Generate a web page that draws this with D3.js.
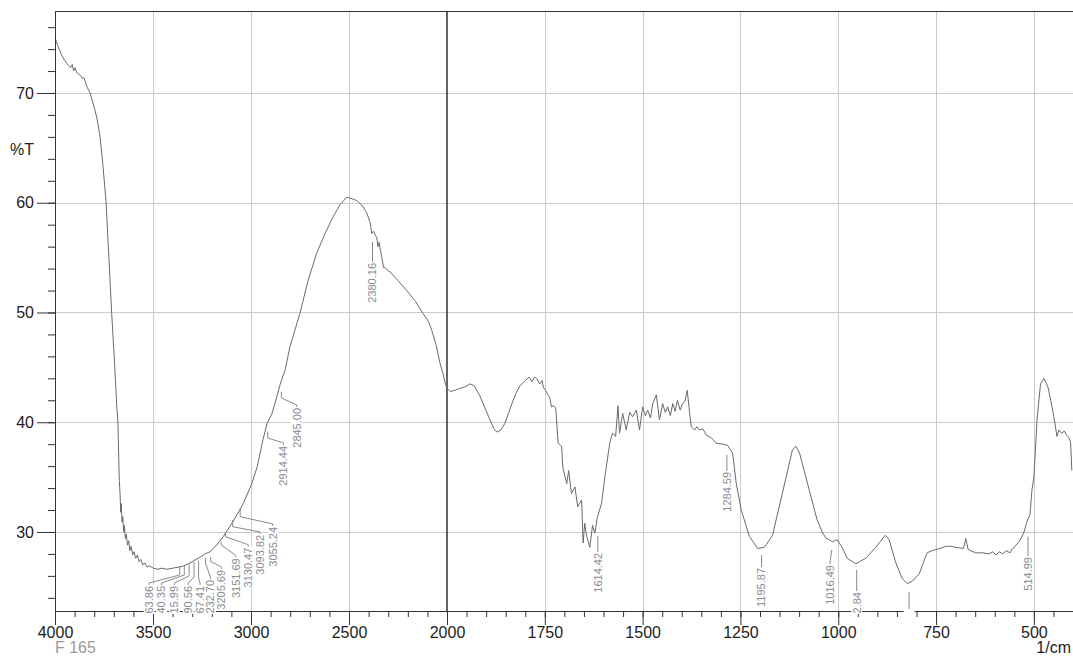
<!DOCTYPE html>
<html>
<head>
<meta charset="utf-8">
<script src="https://cdn.jsdelivr.net/npm/d3@7"></script>
<style>
    body { margin: 0; background: #fff; }
    svg { display: block; font-family: "Liberation Sans", Arial, sans-serif; }
</style>
</head>
<body>
<div id="chart"></div>
<script>
// IR spectrum
let wavenumber = [
    4000, 3985, 3970, 3955, 3940, 3930, 3920, 3912, 3905, 3898, 3890, 3880, 3870, 3860, 3852, 3845, 3835, 3821,
    3805, 3787, 3770, 3755, 3740, 3725, 3711, 3695, 3685, 3679, 3675, 3672, 3668, 3665, 3662, 3658, 3654, 3650,
    3646, 3641, 3636, 3630, 3624, 3618, 3611, 3604, 3597, 3588, 3580, 3571, 3562, 3552, 3542, 3530, 3518, 3498,
    3475, 3455, 3430, 3400, 3370, 3345, 3320, 3290, 3260, 3235, 3209, 3175, 3141, 3090, 3039, 2996, 2969, 2939,
    2918, 2895, 2878, 2852, 2843, 2827, 2801, 2750, 2709, 2665, 2622, 2582, 2546, 2512, 2490, 2461, 2435, 2410,
    2392, 2384, 2375, 2367, 2358, 2352, 2346, 2342, 2333, 2324, 2316, 2300, 2291, 2250, 2206, 2160, 2122, 2095,
    2078, 2055, 2036, 2020, 2010, 2000, 1992, 1980, 1967, 1955, 1941, 1930, 1916, 1903, 1890, 1880, 1872, 1862,
    1852, 1843, 1834, 1824, 1814, 1800, 1790, 1783, 1777, 1771, 1763, 1757, 1754, 1748, 1742, 1737, 1733, 1727,
    1722, 1716, 1707, 1704, 1694, 1689, 1682, 1673, 1666, 1656, 1652, 1648, 1643, 1635, 1628, 1622, 1616, 1605,
    1595, 1584, 1577, 1569, 1563, 1559, 1551, 1542, 1533, 1526, 1516, 1508, 1500, 1493, 1487, 1480, 1474, 1465,
    1457, 1449, 1442, 1436, 1429, 1423, 1417, 1411, 1404, 1398, 1392, 1386, 1376, 1367, 1361, 1355, 1346, 1337,
    1325, 1312, 1295, 1283, 1270, 1261, 1248, 1227, 1206, 1189, 1168, 1143, 1117, 1108, 1099, 1074, 1054, 1041,
    1031, 1023, 1015, 1003, 990, 977, 955, 930, 904, 880, 870, 853, 837, 824, 811, 793, 773, 760,
    740, 725, 712, 700, 680, 674, 668, 649, 630, 615, 605, 597, 589, 579, 571, 561, 556, 538,
    526, 518, 510, 505, 500, 496, 492, 483, 474, 464, 457, 449, 441, 436, 429, 422, 416, 410,
    406, 403
]
let transmittance = [
    75.0, 74.3, 73.6, 73.1, 72.7, 72.5, 72.3, 72.6, 72.0, 72.3, 71.9, 71.7, 71.6, 71.3, 71.4, 71.0, 70.5, 70.0,
    69.0, 67.8, 66.0, 63.3, 60.2, 55.0, 50.0, 45.0, 41.5, 40.0, 37.0, 34.7, 33.5, 31.8, 32.6, 30.9, 31.4, 30.0,
    30.6, 29.4, 29.8, 28.8, 29.2, 28.3, 28.7, 27.9, 28.2, 27.6, 27.9, 27.3, 27.5, 27.0, 27.2, 26.8, 26.9, 26.7,
    26.6, 26.7, 26.6, 26.7, 26.8, 26.9, 27.1, 27.4, 27.7, 28.0, 28.2, 28.8, 29.6, 31.0, 32.6, 34.4, 35.9, 38.4,
    39.9, 40.7, 41.7, 43.4, 43.9, 44.7, 46.9, 49.95, 52.9, 55.4, 57.2, 58.7, 59.8, 60.5, 60.4, 60.2, 59.8, 59.1,
    58.2, 57.2, 57.4, 57.1, 56.8, 56.0, 56.4, 55.9, 55.1, 54.1, 54.1, 53.8, 53.7, 52.9, 52.0, 51.0, 49.9, 49.2,
    48.4, 47.0, 45.4, 44.4, 43.6, 43.1, 42.8, 42.9, 43.1, 43.2, 43.5, 43.3, 42.4, 41.3, 40.2, 39.4, 39.1, 39.3,
    39.9, 40.8, 41.7, 42.6, 43.3, 43.8, 44.1, 43.7, 44.1, 44.0, 43.5, 43.8, 43.2, 42.9, 42.5, 42.2, 41.4, 41.5,
    41.3, 38.1, 37.8, 35.9, 34.4, 35.6, 33.5, 34.1, 32.3, 32.9, 29.0, 30.8, 29.6, 28.6, 30.6, 29.9, 31.3, 32.6,
    35.4, 38.1, 39.0, 38.7, 41.5, 39.0, 40.8, 39.3, 40.9, 40.5, 41.1, 39.3, 41.4, 40.6, 41.1, 40.4, 41.7, 42.5,
    40.2, 41.7, 40.9, 41.4, 40.6, 41.7, 41.0, 42.0, 41.1, 41.7, 41.9, 42.9, 39.6, 39.3, 39.6, 39.3, 39.4, 38.8,
    38.6, 38.1, 38.0, 37.9, 37.2, 34.5, 32.0, 29.6, 28.5, 28.6, 29.7, 33.5, 37.5, 37.8, 37.2, 33.8, 31.1, 30.0,
    29.4, 29.3, 29.1, 29.3, 28.6, 27.6, 27.1, 27.6, 28.6, 29.7, 29.3, 27.2, 25.8, 25.3, 25.5, 26.2, 28.1, 28.3,
    28.5, 28.7, 28.7, 28.6, 28.5, 29.4, 28.4, 28.1, 28.1, 28.0, 28.2, 27.9, 28.2, 28.0, 28.3, 28.1, 28.4, 29.1,
    29.9, 30.9, 31.6, 33.8, 35.0, 37.5, 40.2, 43.5, 44.0, 43.2, 42.0, 40.5, 38.7, 39.3, 39.0, 39.2, 38.8, 38.6,
    38.1, 35.6
]

// peak picks and their labels
let peakWn = [3363.86, 3340.35, 3315.99, 3290.56, 3267.41, 3232.70, 3205.69, 3151.69, 3130.47, 3093.82, 3055.24,
    2914.44, 2845.00, 2380.16, 1614.42, 1284.59, 1195.87, 1016.49, 952.84, 819, 514.99]
let peakText = ["3363.86", "3340.35", "3315.99", "3290.56", "3267.41", "3232.70", "3205.69", "3151.69", "3130.47",
    "3093.82", "3055.24", "2914.44", "2845.00", "2380.16", "1614.42", "1284.59", "1195.87", "1016.49", "952.84", "",
    "514.99"]

// label placement (in axis units): column of the text, leader start, bend, top of text
let labelWn = [3520, 3456, 3391, 3320, 3260, 3207, 3150, 3078, 3014, 2954, 2889, 2834, 2767,
    2380.16, 1614.42, 1284.59, 1195.87, 1021, 952.84, 819, 514.99]
let leaderT = [26.81, 26.90, 27.08, 27.27, 27.36, 27.63, 27.75, 29.11, 29.91, 31.09, 32.16, 39.14, 42.78,
    56.42, 29.63, 37.02, 27.90, 28.36, 26.54, 24.56, 29.57]
let bendT = [26.08, 26.08, 25.99, 25.90, 25.81, 27.18, 27.29, 28.81, 29.57, 30.48, 31.39, 38.56, 42.21,
    56.42, 29.63, 37.02, 27.90, 28.36, 26.54, 24.56, 29.57]
let labelTopT = [25.08, 25.08, 25.08, 25.08, 25.08, 25.63, 26.54, 27.60, 28.57, 29.73, 30.46, 37.84, 41.30,
    54.51, 28.09, 35.47, 26.72, 26.99, 24.53, 22.90, 27.72]

let xTickValues = [4000, 3500, 3000, 2500, 2000, 1750, 1500, 1250, 1000, 750, 500]
let yTickValues = [30, 40, 50, 60, 70]

function renderSpectrum(frame_id) {
    let width = 1073
    let height = 656
    let left = 55, top = 11, right = 1073, bottom = 611

    var svg = d3.select("#" + frame_id)
        .append("svg")
        .attr("width", width)
        .attr("height", height)

    // 4000-2000 is drawn at half the scale of 2000-400
    var x = d3.scaleLinear().domain([4000, 2000, 400]).range([left, 447, right])
    var y = d3.scaleLinear().domain([22.8, 77.47]).range([bottom, top])

    let xMinor = d3.range(4000, 2000, -100).concat(d3.range(2000, 399, -50))
    let yMinor = d3.range(24, 77, 2)

    // grid
    svg.append("g").selectAll("line")
        .data(xTickValues.filter(d => d != 4000 && d != 2000))
        .enter().append("line")
        .attr("x1", d => Math.round(x(d)) + 0.5).attr("x2", d => Math.round(x(d)) + 0.5)
        .attr("y1", top).attr("y2", bottom)
        .attr("stroke", "#cbcbcb")
    svg.append("g").selectAll("line")
        .data(yTickValues)
        .enter().append("line")
        .attr("x1", left).attr("x2", right)
        .attr("y1", d => Math.round(y(d)) + 0.5).attr("y2", d => Math.round(y(d)) + 0.5)
        .attr("stroke", "#cbcbcb")

    svg.append("line")
        .attr("x1", x(2000)).attr("x2", x(2000))
        .attr("y1", top).attr("y2", bottom)
        .attr("stroke", "#111")
        .attr("stroke-width", 1.3)

    // spectrum
    let points = wavenumber.map((w, i) => [w, transmittance[i]])
    svg.append("path")
        .datum(points)
        .attr("d", d3.line().x(d => x(d[0])).y(d => y(d[1])))
        .attr("fill", "none")
        .attr("stroke", "#6a6a6a")
        .attr("stroke-width", 1)

    // axes
    svg.append("g")
        .attr("transform", "translate(0," + bottom + ")")
        .call(d3.axisBottom(x).tickValues(xTickValues).tickSize(14).tickSizeOuter(0).tickPadding(2).tickFormat(d3.format("d")))
    svg.append("g")
        .attr("transform", "translate(0," + bottom + ")")
        .call(d3.axisBottom(x).tickValues(xMinor).tickSize(6).tickSizeOuter(0).tickFormat(""))
    svg.append("g")
        .attr("transform", "translate(" + left + ",0)")
        .call(d3.axisLeft(y).tickValues(yTickValues).tickSize(18).tickSizeOuter(0).tickPadding(3))
    svg.append("g")
        .attr("transform", "translate(" + left + ",0)")
        .call(d3.axisLeft(y).tickValues(yMinor).tickSize(7).tickSizeOuter(0).tickFormat(""))

    svg.selectAll(".domain, .tick line").attr("stroke", "#333")
    svg.selectAll(".tick text")
        .attr("fill", "#1c1c1c")
        .style("font-size", "16px")
        .style("font-family", "'Liberation Sans', Arial, sans-serif")

    // top border
    svg.append("line")
        .attr("x1", left).attr("x2", right)
        .attr("y1", top + 0.5).attr("y2", top + 0.5)
        .attr("stroke", "#333")

    // peak labels, cut at the foot of the plot
    svg.append("clipPath").attr("id", "plotclip")
        .append("rect")
        .attr("x", left).attr("y", top)
        .attr("width", right - left).attr("height", 614 - top)

    var labels = svg.append("g").attr("clip-path", "url(#plotclip)")

    peakWn.forEach((w, i) => {
        let px = x(w), lx = x(labelWn[i])
        let y0 = y(leaderT[i]), y1 = y(bendT[i]), yt = y(labelTopT[i])
        let path = [[px, y0], [px, y1]]
        if (Math.abs(lx - px) > 0.5) path.push([lx, yt - 3])
        path.push([lx, yt])
        labels.append("path")
            .attr("d", d3.line()(path))
            .attr("fill", "none")
            .attr("stroke", "#8a8a8a")
            .attr("stroke-width", 1)

        var g = labels.append("g")
            .attr("transform", "translate(" + lx + "," + yt + ") rotate(-90)")
        var bg = g.append("rect").attr("fill", "#fff")
        var t = g.append("text")
            .text(peakText[i])
            .attr("text-anchor", "end")
            .attr("dy", "0.35em")
            .attr("fill", "#878c94")
            .style("font-size", "11px")
        let len = t.node().getComputedTextLength()
        bg.attr("x", -Math.max(len, 6) - 1).attr("y", -5.5)
            .attr("width", Math.max(len, 6) + 2).attr("height", 11)
    })

    // titles
    svg.append("text")
        .attr("x", 34).attr("y", 149)
        .attr("text-anchor", "end")
        .attr("dy", "0.35em")
        .attr("fill", "#1c1c1c")
        .style("font-size", "16px")
        .text("%T")
    svg.append("text")
        .attr("x", 1071).attr("y", 653)
        .attr("text-anchor", "end")
        .attr("fill", "#1c1c1c")
        .style("font-size", "16px")
        .text("1/cm")
    svg.append("text")
        .attr("x", 55).attr("y", 653)
        .attr("fill", "#9a9a9a")
        .style("font-size", "16px")
        .text("F 165")
}

renderSpectrum("chart")
</script>
</body>
</html>
